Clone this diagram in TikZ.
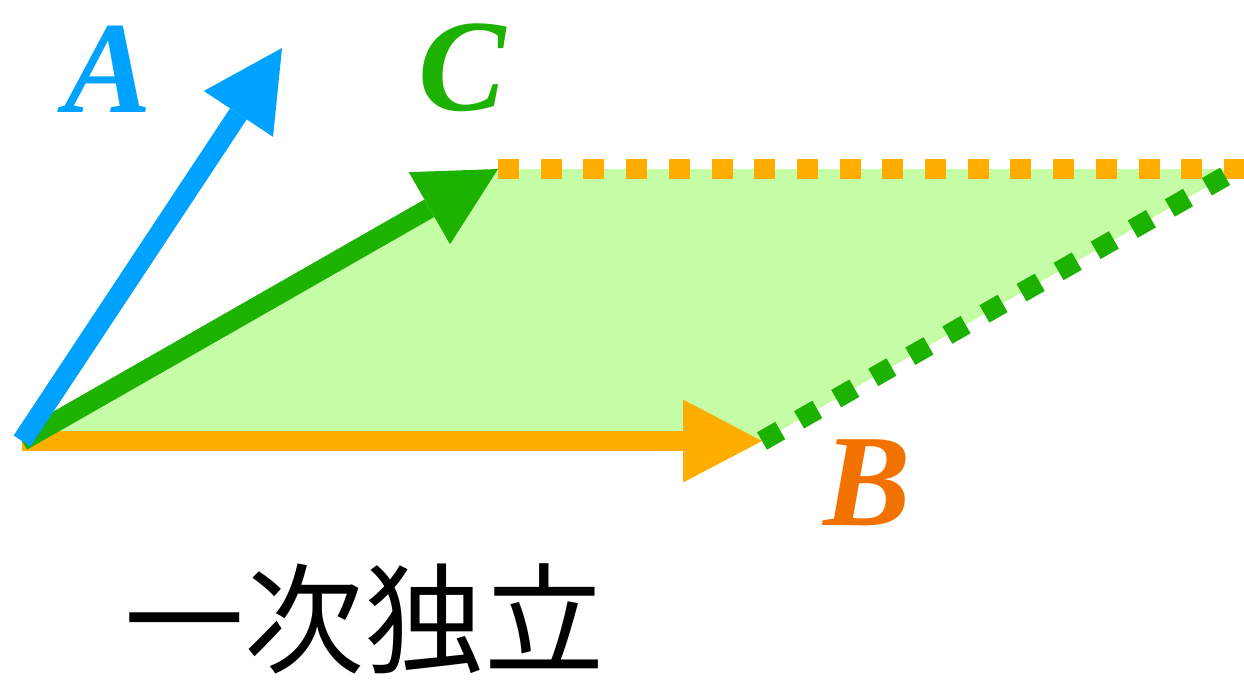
\documentclass[tikz,border=0pt]{standalone}
\usepackage{fontspec}
\setmainfont{Liberation Serif}
\newfontfamily\jpfont{Noto Sans CJK JP}
\usetikzlibrary{arrows.meta}
\definecolor{SpanBlue}{HTML}{00A2FF}
\definecolor{SpanGreen}{HTML}{1DB100}
\definecolor{SpanOrange}{HTML}{FFAE00}
\definecolor{SpanTangerine}{HTML}{F27200}
\definecolor{SpanFill}{HTML}{C5FCA6}
\tikzset{
  span vector/.style={line width=20pt, -{Triangle[length=79pt,width=83pt,line width=0pt]}},
  span dots/.style={line width=20pt, dash pattern=on 21pt off 21.7pt},
  span label/.style={font=\bfseries\itshape\fontsize{131}{131}\selectfont, inner sep=0pt},
  span caption/.style={font=\jpfont\fontsize{120}{120}\selectfont, text=black, inner sep=0pt},
}

\begin{document}
\begin{tikzpicture}[x=1pt,y=-1pt]
  \useasboundingbox (0,0) rectangle (1244,681);

  % vector end points
  \coordinate (O) at (22,441);
  \coordinate (A) at (282,48);
  \coordinate (B) at (762,441);
  \coordinate (C) at (498,169);
  \coordinate (D) at (1238,169);
  \coordinate (E) at (1244,169);

  % span of B and C
  \fill[SpanFill] (O) -- (C) -- (D) -- (B) -- cycle;

  % vectors
  \draw[span vector, SpanOrange] (O) -- (B);
  \draw[span vector, SpanGreen] (O) -- (C);
  \draw[span vector, SpanBlue] (O) -- (A);

  % translated copies
  \draw[span dots, SpanOrange] (C) -- (E);
  \draw[span dots, SpanGreen] (B) -- (D);

  % labels
  \node[span label, text=SpanBlue] (labA) at (108,69) {A};
  \node[span label, text=SpanGreen] (labC) at (462,68) {C};
  \node[span label, text=SpanTangerine] (labB) at (867,483) {B};
  \node[span caption] (caption) at (364,619) {一次独立};
\end{tikzpicture}
\end{document}
